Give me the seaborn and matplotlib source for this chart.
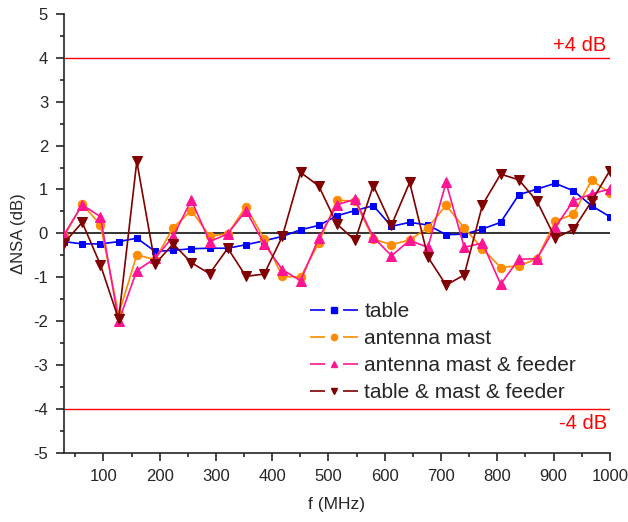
import numpy as np
import pandas as pd
import matplotlib
matplotlib.use("Agg")
import matplotlib.pyplot as plt
from matplotlib.ticker import MultipleLocator
from matplotlib.lines import Line2D
import seaborn as sns

freq = [30.0, 62.3, 94.7, 127.0, 159.3, 191.7, 224.0, 256.3, 288.7, 321.0,
        353.3, 385.7, 418.0, 450.3, 482.7, 515.0, 547.3, 579.7, 612.0, 644.3,
        676.7, 709.0, 741.3, 773.7, 806.0, 838.3, 870.7, 903.0, 935.3, 967.7, 1000.0]

table = [-0.19, -0.24, -0.24, -0.19, -0.11, -0.41, -0.39, -0.35, -0.34, -0.34,
         -0.26, -0.17, -0.07, 0.08, 0.18, 0.40, 0.52, 0.63, 0.16, 0.25,
         0.19, -0.03, -0.02, 0.10, 0.25, 0.88, 1.01, 1.14, 0.97, 0.63, 0.38]

antenna_mast = [-0.07, 0.67, 0.19, -1.85, -0.49, -0.60, 0.13, 0.52, -0.06, -0.01,
                0.61, -0.13, -0.98, -1.00, -0.22, 0.76, 0.73, -0.13, -0.26, -0.15,
                0.13, 0.64, 0.12, -0.35, -0.78, -0.74, -0.58, 0.27, 0.44, 1.21, 0.92]

mast_feeder = [-0.03, 0.65, 0.38, -2.01, -0.85, -0.57, -0.07, 0.76, -0.19, -0.01,
               0.52, -0.24, -0.83, -1.08, -0.11, 0.65, 0.78, -0.09, -0.51, -0.16,
               -0.32, 1.16, -0.32, -0.22, -1.16, -0.59, -0.58, 0.14, 0.74, 0.90, 1.01]

table_mast_feeder = [-0.22, 0.25, -0.72, -1.96, 1.64, -0.70, -0.24, -0.67, -0.92, -0.34,
                     -0.98, -0.93, -0.07, 1.39, 1.08, 0.21, -0.16, 1.09, 0.19, 1.16,
                     -0.54, -1.18, -0.95, 0.65, 1.35, 1.22, 0.73, -0.11, 0.09, 0.73, 1.43]

series_names = ["table", "antenna mast", "antenna mast & feeder", "table & mast & feeder"]
series_values = [table, antenna_mast, mast_feeder, table_mast_feeder]
colors = ["#0000FF", "#FF8C00", "#FF1493", "#800000"]
markers = ["s", "o", "^", "v"]
msizes = [5, 6, 7, 7]
leg_msizes = [4, 4.5, 5, 5]

sns.set_style("ticks")
plt.rcParams['font.family'] = ['Liberation Sans', 'DejaVu Sans']
plt.rcParams['axes.unicode_minus'] = False
plt.rcParams['lines.scale_dashes'] = False

fig = plt.figure(figsize=(6.28, 5.22), dpi=100)
ax = fig.add_axes([0.102, 0.133, 0.869, 0.840])

ax.axhline(0, color="#333333", lw=1.4, zorder=1)
ax.axhline(4, color="#FF0000", lw=1.0, zorder=1)
ax.axhline(-4, color="#FF0000", lw=1.0, zorder=1)

for name, vals, c, m, ms in zip(series_names, series_values, colors, markers, msizes):
    df = pd.DataFrame({"f": freq, "v": vals})
    sns.lineplot(data=df, x="f", y="v", ax=ax, color=c, marker=m, markersize=ms,
                 markeredgecolor=c, lw=1.2, legend=False, zorder=3)

ax.set_xlim(30, 1000)
ax.set_ylim(-5, 5)
ax.xaxis.set_major_locator(MultipleLocator(100))
ax.xaxis.set_minor_locator(MultipleLocator(50))
ax.yaxis.set_major_locator(MultipleLocator(1))
ax.yaxis.set_minor_locator(MultipleLocator(0.5))
ax.tick_params(which="major", direction="out", length=5.5, width=1.2, labelsize=12)
ax.tick_params(which="minor", direction="out", length=3.2, width=1.2)
ax.tick_params(axis="x", which="major", pad=6)
ax.tick_params(axis="y", which="major", pad=6)
for s in ["left", "bottom"]:
    ax.spines[s].set_linewidth(1.2)
sns.despine(ax=ax)

ax.set_xlabel("f (MHz)", fontsize=12.5, labelpad=10)
ax.set_ylabel("ΔNSA (dB)", fontsize=12, labelpad=5)

ax.text(994.5, 4.16, "+4 dB", color="#FF0000", fontsize=14.5, ha="right", va="baseline")
ax.text(994.5, -4.46, "-4 dB", color="#FF0000", fontsize=14.5, ha="right", va="baseline")

handles = [Line2D([], [], color=c, marker=m, markersize=ms, markeredgecolor=c, lw=1.2,
                  linestyle=(0, (10.8, 13.0, 10.8, 100)))
           for c, m, ms in zip(colors, markers, leg_msizes)]
ax.legend(handles, series_names, loc="upper left",
          bbox_to_anchor=(310 / 628, 1 - 302 / 522), bbox_transform=fig.transFigure,
          frameon=False, fontsize=15, handlelength=2.3, handletextpad=0.3,
          labelspacing=0.39, borderpad=0, borderaxespad=0)

fig.savefig("out.png", dpi=100)
